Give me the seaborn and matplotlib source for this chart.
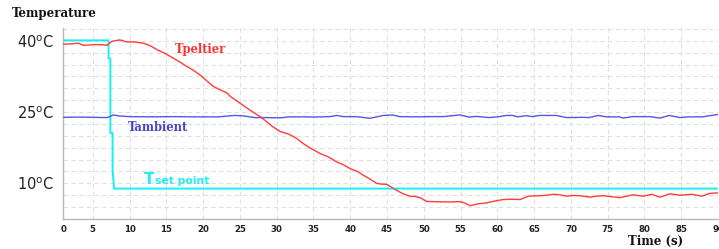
import matplotlib
matplotlib.use("Agg")
import matplotlib.pyplot as plt
import seaborn as sns
import pandas as pd

# ---------------- data ----------------
peltier_t = [1.0, 1.9, 3.1, 3.75, 5.1, 6.2, 6.9, 7.6, 8.7, 9.7, 10.5, 11.9, 12.8,
             13.8, 14.9, 15.9, 16.9, 17.8, 18.7, 19.6, 20.5, 21.4, 22.3, 23.3, 23.7,
             25.0, 26.4, 27.8, 28.4, 29.4, 30.5, 31.6, 32.7, 33.6, 34.6, 35.9, 37.0,
             38.2, 39.1, 40.0, 41.0, 41.8, 42.7, 43.6, 44.2, 45.0, 45.7, 46.3, 47.2,
             48.1, 48.8, 49.5, 50.4, 51.5, 52.6, 53.8, 54.9, 55.5, 56.3, 57.4, 58.6,
             59.7, 60.8, 62.0, 63.1, 64.2, 65.8, 66.7, 67.6, 68.5, 69.4, 70.3, 71.2,
             72.6, 73.5, 74.4, 75.5, 76.7, 77.6, 78.4, 79.8, 81.0, 82.1, 83.5, 84.8,
             85.6, 86.4, 87.8, 88.9, 90.0]
peltier_v = [39.3, 39.35, 39.5, 39.05, 39.2, 39.2, 39.05, 39.9, 40.2, 39.75, 39.8, 39.5, 39.0,
             38.1, 37.3, 36.4, 35.5, 34.6, 33.8, 32.8, 31.6, 30.4, 29.7, 29.0, 28.3,
             26.9, 25.4, 24.0, 23.3, 22.0, 20.9, 20.4, 19.5, 18.4, 17.4, 16.3, 15.6,
             14.5, 13.9, 13.1, 12.5, 11.7, 10.9, 10.0, 9.85, 9.8, 9.1, 8.55, 7.8,
             7.3, 7.25, 7.0, 6.2, 6.15, 6.1, 6.1, 6.15, 5.9, 5.3, 5.7, 5.9,
             6.3, 6.6, 6.65, 6.6, 7.3, 7.4, 7.5, 7.7, 7.6, 7.3, 7.45, 7.4,
             7.1, 7.3, 7.4, 7.2, 7.0, 7.3, 7.6, 7.3, 7.7, 7.1, 7.8, 7.5,
             7.6, 7.7, 7.3, 7.9, 8.0]

ambient_t = [1.0, 3.0, 5.0, 7.0, 7.8, 8.6, 10.0, 13.0, 16.0, 19.0, 22.0, 24.3, 25.5,
             27.0, 28.2, 30.5, 31.8, 34.1, 35.0, 37.2, 38.2, 39.0, 40.8, 42.7, 44.5,
             45.8, 46.7, 49.0, 50.8, 52.6, 54.9, 56.2, 57.1, 58.9, 60.3, 61.2, 62.1,
             62.8, 63.9, 64.8, 65.7, 68.0, 69.4, 71.6, 72.5, 73.7, 74.8, 76.6, 77.1,
             78.4, 80.7, 82.1, 83.4, 84.8, 86.1, 87.9, 88.9, 90.0]
ambient_v = [23.9, 23.95, 23.9, 23.85, 24.4, 24.2, 24.05, 24.0, 24.05, 24.0, 24.0, 24.3, 24.2,
             23.85, 23.85, 23.8, 24.0, 24.0, 23.95, 24.05, 24.3, 24.05, 24.05, 23.7, 24.3,
             24.4, 24.05, 24.0, 24.05, 24.05, 24.4, 23.95, 24.1, 23.85, 24.05, 24.3, 24.3,
             24.0, 24.25, 24.05, 24.3, 24.3, 23.85, 23.9, 23.85, 24.3, 24.0, 24.0, 23.75,
             24.05, 24.05, 23.75, 24.3, 23.85, 24.0, 24.0, 24.25, 24.5]

setpoint_t = [1.0, 7.15, 7.15, 7.4, 7.4, 7.7, 7.7, 7.9, 90.0]
setpoint_v = [40.1, 40.1, 36.3, 36.3, 20.6, 20.6, 12.8, 8.9, 8.9]

x_tick_pos = [1.0, 5, 10, 15, 20, 25, 30, 35, 40, 45, 50, 55, 60, 65, 70, 75, 80, 85, 90]
x_tick_labels = ["0", "5", "10", "15", "20", "25", "30", "35", "40", "45",
                 "50", "55", "60", "65", "70", "75", "80", "85", "90"]
y_tick_pos = [10, 25, 40]
y_tick_labels = [r"10$^{\mathrm{o}}$C", r"25$^{\mathrm{o}}$C", r"40$^{\mathrm{o}}$C"]

# ---------------- figure ----------------
sns.set_theme(style="white")
plt.rcParams["mathtext.default"] = "regular"
plt.rcParams["font.family"] = ["DejaVu Sans"]

W, H = 719, 249
fig = plt.figure(figsize=(W / 100, H / 100), dpi=100)
ax = fig.add_axes([63.3 / W, 1 - 219 / H, (718 - 63.3) / W, (219 - 28.5) / H])

pel = pd.DataFrame({"t": peltier_t, "v": peltier_v})
amb = pd.DataFrame({"t": ambient_t, "v": ambient_v})
sp = pd.DataFrame({"t": setpoint_t, "v": setpoint_v})

sns.lineplot(data=sp, x="t", y="v", ax=ax, color="#12f2f2", lw=1.4,
             estimator=None, sort=False, zorder=3)
sns.lineplot(data=amb, x="t", y="v", ax=ax, color="#5555e8", lw=1.0,
             estimator=None, sort=False, zorder=4)
sns.lineplot(data=pel, x="t", y="v", ax=ax, color="#ff3c3c", lw=1.0,
             estimator=None, sort=False, zorder=5)

ax.set_xlim(1.0, 90)
ax.set_ylim(2.5, 42.6)

ax.set_xticks(x_tick_pos)
ax.set_xticklabels(x_tick_labels, fontsize=6.2, fontweight="bold", color="#222222")
ax.set_yticks(y_tick_pos)
ax.set_yticklabels(y_tick_labels, fontsize=10.5, color="#222222")
ax.set_yticks([2.5 * i for i in range(1, 18)], minor=True)
ax.tick_params(axis="both", which="both", length=0)
ax.tick_params(axis="x", pad=4)
ax.tick_params(axis="y", pad=7)

ax.grid(True, which="both", color="#e0e0e0", linestyle=(0, (4, 3)), lw=0.8)
ax.set_axisbelow(True)
for s in ["top", "right"]:
    ax.spines[s].set_visible(False)
for s in ["left", "bottom"]:
    ax.spines[s].set_color("#b8b8b8")
    ax.spines[s].set_linewidth(1.0)

ax.set_xlabel("")
ax.set_ylabel("")

# series labels
ax.text(16.2, 38.1, "Tpeltier", color="#ff3030", fontsize=8.3, fontweight="bold",
        family="DejaVu Serif", va="center", ha="left")
ax.text(9.8, 21.85, "Tambient", color="#4545c8", fontsize=8.3, fontweight="bold",
        family="DejaVu Serif", va="center", ha="left")
ax.text(11.9, 9.9, "T", color="#22eeee", fontsize=11, fontweight="bold",
        va="baseline", ha="left")
ax.annotate("set point", xy=(11.9, 9.9), xytext=(8.5, 0), textcoords="offset points",
            color="#22eeee", fontsize=7.8, fontweight="bold", va="baseline", ha="left")

fig.text(12 / W, 1 - 14 / H, "Temperature", fontsize=8.5, fontweight="bold",
         family="DejaVu Serif", va="center", ha="left", color="#111111")
fig.text(656 / W, 1 - 241 / H, "Time (s)", fontsize=8.5, fontweight="bold",
         family="DejaVu Serif", va="center", ha="center", color="#111111")

fig.savefig("out.png", dpi=100)
